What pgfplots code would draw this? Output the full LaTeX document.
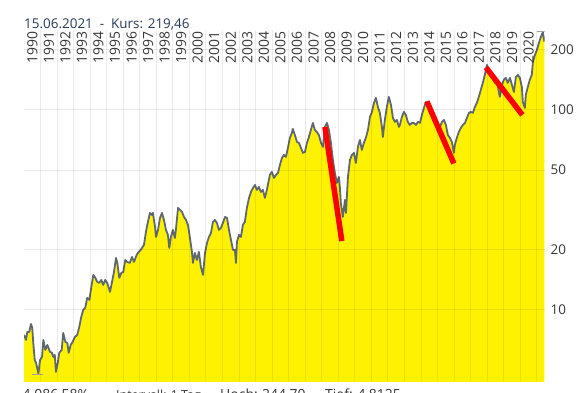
\documentclass[border=0pt]{standalone}
\usepackage{fontspec}
\setmainfont{Open Sans}
\usepackage{pgfplots}
\pgfplotsset{compat=1.18}
\usepackage{pgfplotstable}
\definecolor{fillyellow}{RGB}{255,242,0}
\definecolor{linegray}{RGB}{95,103,111}
\definecolor{titleblue}{RGB}{38,58,86}
\definecolor{txtgray}{RGB}{55,55,55}
\definecolor{markgray}{RGB}{160,160,160}

\pgfplotstableread{
t v
1990.00 7.50
1990.12 7.08
1990.20 7.76
1990.32 7.76
1990.42 8.51
1990.50 8.13
1990.56 6.84
1990.65 5.62
1990.73 5.43
1990.87 4.81
1990.97 5.62
1991.09 5.82
1991.17 7.08
1991.29 6.31
1991.41 6.68
1991.57 6.17
1991.69 6.10
1991.77 5.82
1991.86 5.96
1991.93 4.90
1992.04 5.43
1992.13 6.10
1992.28 6.31
1992.37 7.67
1992.50 6.92
1992.62 6.84
1992.70 6.10
1992.82 6.68
1992.94 6.92
1993.08 7.33
1993.22 7.50
1993.34 8.22
1993.46 9.22
1993.58 10.0
1993.70 10.23
1993.82 11.48
1993.95 11.22
1994.07 13.04
1994.19 14.96
1994.31 14.46
1994.43 13.81
1994.55 13.65
1994.67 14.13
1994.79 13.34
1994.91 14.13
1995.03 13.65
1995.20 12.30
1995.32 13.81
1995.44 15.49
1995.56 18.19
1995.64 17.18
1995.76 14.46
1995.88 15.31
1996.00 15.49
1996.12 17.78
1996.24 17.38
1996.40 17.18
1996.53 18.41
1996.65 17.38
1996.81 18.84
1996.93 19.50
1997.05 19.95
1997.17 20.65
1997.25 21.13
1997.37 24.55
1997.49 27.54
1997.61 30.55
1997.73 29.85
1997.79 30.55
1997.92 26.00
1997.98 23.17
1998.10 25.12
1998.22 28.84
1998.34 30.55
1998.46 28.18
1998.58 25.12
1998.70 23.71
1998.78 20.41
1998.88 23.17
1999.00 25.12
1999.12 22.91
1999.18 25.12
1999.31 32.36
1999.43 31.62
1999.55 30.90
1999.67 29.17
1999.79 28.18
1999.91 26.61
2000.03 22.91
2000.15 19.50
2000.21 17.18
2000.33 19.28
2000.45 17.78
2000.57 19.50
2000.69 16.41
2000.82 14.96
2000.94 19.28
2001.06 21.62
2001.18 23.17
2001.30 24.26
2001.42 27.54
2001.54 28.18
2001.66 27.23
2001.78 25.12
2001.90 25.70
2002.02 27.23
2002.15 29.17
2002.27 28.84
2002.39 25.12
2002.51 22.39
2002.63 19.95
2002.75 19.95
2002.81 17.18
2002.87 21.88
2002.99 23.71
2003.11 23.17
2003.23 26.61
2003.35 27.54
2003.47 32.36
2003.60 36.31
2003.72 38.90
2003.84 40.74
2003.96 42.17
2004.08 39.81
2004.20 41.21
2004.32 38.90
2004.44 39.81
2004.56 36.31
2004.68 39.81
2004.80 44.67
2004.86 47.32
2004.98 48.98
2005.11 45.71
2005.23 47.32
2005.35 48.42
2005.47 53.09
2005.59 57.54
2005.71 59.57
2005.83 58.21
2005.95 64.57
2006.07 72.44
2006.19 76.74
2006.25 80.35
2006.37 74.99
2006.50 69.18
2006.62 68.39
2006.74 64.57
2006.86 60.96
2006.98 61.67
2007.10 68.39
2007.22 73.28
2007.34 79.43
2007.46 86.10
2007.58 79.43
2007.70 77.62
2007.82 74.99
2007.95 68.39
2008.07 65.31
2008.19 82.22
2008.31 86.10
2008.43 79.43
2008.55 68.39
2008.67 56.23
2008.79 48.42
2008.91 43.15
2009.03 46.24
2009.09 41.21
2009.15 34.28
2009.27 29.17
2009.40 35.48
2009.46 30.55
2009.58 46.24
2009.70 56.23
2009.82 59.57
2009.94 60.96
2010.06 54.33
2010.18 65.31
2010.30 70.79
2010.42 63.10
2010.54 68.39
2010.66 72.44
2010.79 79.43
2010.91 92.26
2011.03 97.72
2011.15 108.4
2011.27 114.8
2011.39 103.5
2011.51 96.61
2011.63 82.22
2011.69 73.28
2011.81 89.13
2011.93 103.5
2012.05 116.2
2012.18 105.9
2012.30 91.21
2012.42 87.10
2012.54 89.13
2012.66 82.22
2012.72 84.14
2012.84 92.26
2012.96 97.72
2013.08 94.41
2013.20 87.10
2013.32 84.14
2013.44 86.10
2013.56 86.10
2013.69 84.14
2013.81 87.10
2013.93 86.10
2014.05 94.41
2014.17 102.3
2014.29 109.6
2014.41 105.9
2014.53 97.72
2014.65 92.26
2014.77 87.10
2014.89 84.14
2015.02 81.28
2015.14 82.22
2015.26 87.10
2015.38 89.13
2015.50 84.14
2015.62 74.99
2015.74 72.44
2015.86 69.18
2015.98 60.96
2016.04 66.83
2016.16 72.44
2016.28 77.62
2016.40 81.28
2016.53 84.14
2016.65 86.10
2016.77 91.21
2016.89 96.61
2017.01 97.72
2017.13 96.61
2017.25 103.5
2017.37 108.4
2017.49 116.2
2017.61 125.9
2017.73 136.5
2017.85 149.6
2017.98 167.9
2018.10 154.9
2018.22 149.6
2018.34 144.6
2018.46 136.5
2018.58 141.3
2018.70 123.0
2018.76 116.2
2018.88 133.4
2019.00 141.3
2019.12 144.6
2019.24 136.5
2019.37 144.6
2019.49 133.4
2019.61 123.0
2019.73 146.2
2019.85 149.6
2019.97 144.6
2020.09 130.4
2020.15 109.6
2020.27 102.3
2020.33 118.9
2020.45 130.4
2020.57 141.3
2020.69 149.6
2020.76 173.8
2020.88 188.4
2021.00 199.5
2021.12 216.2
2021.24 231.7
2021.36 244.7
2021.45 219.46
}\kurs

\begin{document}
\begin{tikzpicture}[x=1bp,y=1bp]
\begin{axis}[
  at={(24bp,11bp)}, anchor=south west,
  scale only axis, width=520.5bp, height=351bp,
  xmin=1990, xmax=2021.46,
  ymode=log, ymin=4.41, ymax=251,
  axis line style={draw=none},
  major tick length=0pt, minor tick length=0pt,
  xtick={1990.5,1991.5,...,2020.5},
  xticklabels={1990,1991,1992,1993,1994,1995,1996,1997,1998,1999,2000,2001,2002,2003,2004,2005,2006,2007,2008,2009,2010,2011,2012,2013,2014,2015,2016,2017,2018,2019,2020},
  minor xtick={1991,1992,...,2021},
  xminorgrids=true, xmajorgrids=false,
  ytick={10,20,50,100,200},
  yticklabels={10,20,50,100,200},
  minor ytick={},
  ymajorgrids=true,
  grid style={black, opacity=0.08, line width=1bp},
  minor grid style={black, opacity=0.08, line width=1bp},
  yticklabel pos=right,
  xticklabel pos=right,
  xticklabel style={rotate=90, anchor=east, inner sep=1bp, font=\fontsize{14}{14}\selectfont, text=txtgray},
  yticklabel style={anchor=west, inner sep=0pt, xshift=6bp, font=\fontsize{13.5}{13.5}\selectfont, text=txtgray},
  /pgf/number format/assume math mode=true,
  axis on top,
  clip=true,
]
\addplot[draw=none, fill=fillyellow] table {\kurs} \closedcycle;
\addplot[linegray, line width=1.8bp, line join=round] table {\kurs};
\addplot[markgray, line width=1bp] coordinates {(1990.48,4.75) (1991.15,4.75)};
\addplot[markgray, line width=1bp] coordinates {(2021.0,246) (2021.46,246)};
\addplot[red, line width=5.5bp] coordinates {(2008.19,82.2) (2009.21,22.1)};
\addplot[red, line width=5.5bp] coordinates {(2014.35,110.3) (2015.98,54.0)};
\addplot[red, line width=5.5bp] coordinates {(2017.92,163.1) (2020.12,94.4)};
\end{axis}
\node[anchor=base west, inner sep=0pt, font=\fontsize{13.5}{14}\selectfont, text=titleblue] at (24,364) {15.06.2021 \ - \ Kurs: 219,46};
\node[anchor=base west, inner sep=0pt, font=\fontsize{14}{15}\selectfont, text=txtgray] at (22.5,-7) {4.086,58\%};
\node[anchor=base west, inner sep=0pt, font=\fontsize{12.5}{15}\selectfont, text=txtgray] at (116,-7) {Intervall: 1 Tag};
\node[anchor=base west, inner sep=0pt, font=\fontsize{14}{15}\selectfont, text=txtgray] at (220,-7) {Hoch:};
\node[anchor=base west, inner sep=0pt, font=\fontsize{14}{15}\selectfont, text=txtgray] at (262,-7) {244,70};
\node[anchor=base west, inner sep=0pt, font=\fontsize{14}{15}\selectfont, text=txtgray] at (325,-7) {Tief: 4,8125};
\pgfresetboundingbox
\useasboundingbox (0,0) rectangle (580,392);
\end{tikzpicture}
\end{document}
